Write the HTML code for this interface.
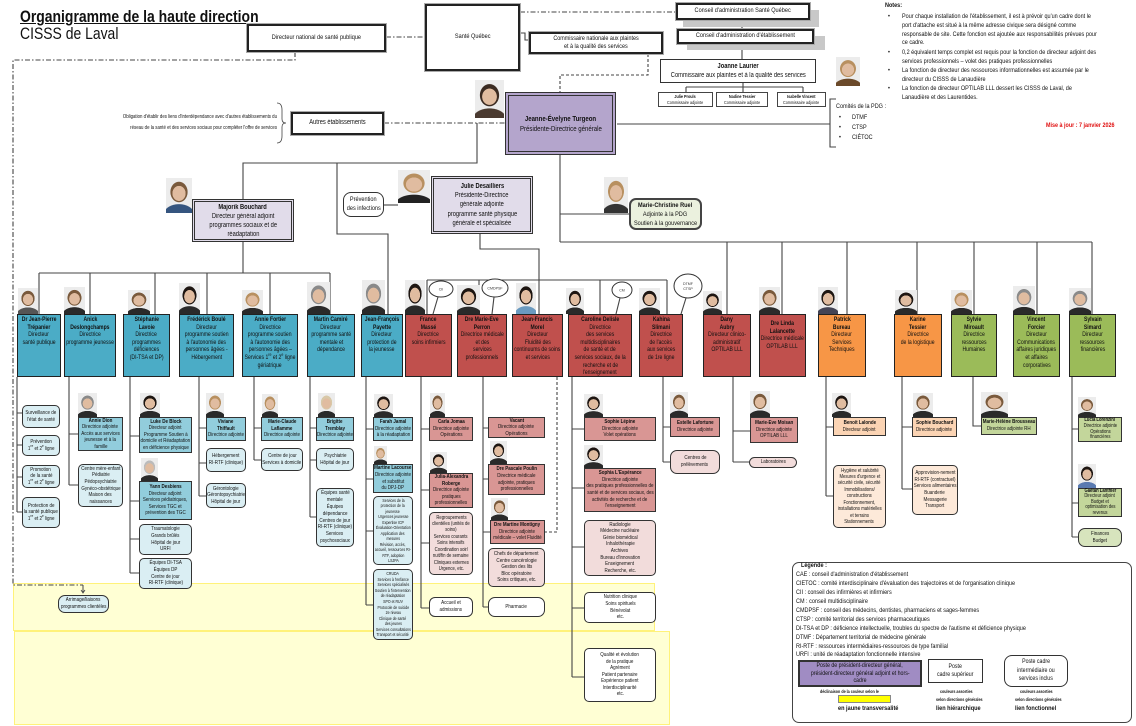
<!DOCTYPE html>
<html><head><meta charset="utf-8">
<style>
*{margin:0;padding:0}
body{width:1136px;height:726px;position:relative;overflow:hidden;background:#fff;font-family:"Liberation Sans",Arial,sans-serif;color:#111}
.t{position:absolute;white-space:nowrap;transform:scaleX(.82);transform-origin:0 50%}
.bx{position:absolute;box-sizing:border-box;display:flex;flex-direction:column;align-items:center;justify-content:center;text-align:center;white-space:nowrap;font-size:5.5px;line-height:6.6px;border:1.2px solid #333;background:#fff}
.bx>*{display:block;transform:scaleX(.82)}
.d{justify-content:flex-start;font-size:6.2px;line-height:7.6px;border:1.5px solid #222;padding-top:1px}
.s{border-radius:5px}
.top{border:2px solid #222;box-shadow:0 0 0 1px #aaa;font-size:6.8px;line-height:8.5px}
.B{background:#4bacc6}.R{background:#c0504d}.O{background:#f79646}.G{background:#9bbb59}
.b2{background:#92cddc}.r2{background:#d99694}.o2{background:#fbd4b4}.g2{background:#c3d69b}
.b3{background:#daeef3}.r3{background:#f2dcdb}.o3{background:#fde9d9}.g3{background:#d7e4bd}
.p{position:absolute;background:
 radial-gradient(ellipse 26% 22% at 50% 44%,#e0bca0 95%,transparent 100%),
 radial-gradient(ellipse 34% 30% at 50% 40%,var(--h,#3b2b22) 95%,transparent 100%),
 radial-gradient(ellipse 60% 30% at 50% 104%,var(--c,#2a2a2a) 95%,transparent 100%),
 #ececec}
.y{--h:#b89060}.g{--h:#8a8a8a}.k{--h:#1e1612}.l{--h:#7a5a3c}
sup{font-size:70%;line-height:0}
</style></head><body>

<div style="position:absolute;left:13px;top:583px;width:642px;height:48px;background:#ffffd4;border:1px solid #fff27a;box-sizing:border-box"></div>
<div style="position:absolute;left:14px;top:631px;width:656px;height:94px;background:#ffffd4;border:1px solid #fff27a;box-sizing:border-box"></div>

<svg width="1136" height="726" style="position:absolute;left:0;top:0" fill="none" stroke="#444" stroke-width="1.1">
<g stroke-dasharray="5 2 1.5 2">
<path d="M386 37H425M520 12H676M384 123H505M295 52V60H13V585H83"/>
</g>
<path d="M83 585V592" stroke-width="1"/>
<path d="M81 590L83 593L85 590" stroke-width="0.8"/>
<g stroke-dasharray="3 2">
<path d="M648 54V75H560V92"/>
<path d="M557 377V532H545"/>
</g>
<path d="M520 33H525V40H529"/>
<path d="M742 20V29M742 43V59"/>
<path d="M743 83V87M686 87H803M686 87V92M743 87V92M803 87V92"/>
<path d="M836 99H830V147H836"/>
<path d="M617 124H830"/>
<path d="M277 103Q282 103 282 110V119Q282 123 286 123Q282 123 282 127V136Q282 143 277 143" stroke-width="0.8"/>
<path d="M477 123V163H243V199M337 163V234H388V314"/>
<path d="M384 205H398"/>
<path d="M480 234V249H539V280"/>
<path d="M560 155V242M560 214H629M560 242H1092M727 242V314M782 242V314M847 242V314M917 242V314M974 242V314M1037 242V314M1092 242V314"/>
<path d="M243 242V273M39 273H330M39 273V314M90 273V314M155 273V314M207 273V314M270 273V314M330 273V314"/>
<path d="M427 280H667M427 280V314M479 280V314M539 280V314M600 280V314M667 280V314"/>
<path d="M17 377V512M17 413H22M17 445H22M17 477H22M17 512H22"/>
<path d="M69 377V485M69 434H78M69 485H78"/>
<path d="M130 377V573M130 436H139M130 501H139M130 539H139M130 573H139"/>
<path d="M199 377V496M199 428H206M199 463H206M199 496H206"/>
<path d="M254 377V460M254 428H261M254 460H261"/>
<path d="M310 377V517M310 428H316M310 460H316M310 517H316"/>
<path d="M366 377V605M366 429H373M366 479H373M366 531H373M366 605H373"/>
<path d="M421 377V608M421 429H429M421 490H429M421 543H429M421 608H429"/>
<path d="M483 377V607M483 428H488M483 479H488M483 532H490M483 607H488"/>
<path d="M572 377V677M572 429H584M572 488H584M572 547H584M572 608H584M572 677H584"/>
<path d="M663 377V462M663 427H670M663 462H670"/>
<path d="M733 377V462M733 431H750M733 462H749"/>
<path d="M826 377V496M826 427H833M826 496H833"/>
<path d="M902 377V489M902 427H912M902 489H912"/>
<path d="M973 377V426H981"/>
<path d="M1072 377V537M1072 429H1078M1072 503H1078M1072 537H1078"/>
<path d="M438 297L433 314M494 297L492 314M620 298L616 314M686 298L681 314"/>
<g fill="#fff" stroke="#333" stroke-width="1">
<ellipse cx="441" cy="289" rx="12" ry="8"/>
<ellipse cx="495" cy="288" rx="13" ry="9"/>
<ellipse cx="622" cy="290" rx="10" ry="8"/>
<ellipse cx="688" cy="286" rx="14" ry="12"/>
</g>
<g fill="#333" stroke="none" font-family="Liberation Sans, Arial, sans-serif" font-size="3.6" text-anchor="middle">
<text x="441" y="290.5">CII</text>
<text x="495" y="289.5">CMDPSF</text>
<text x="622" y="291.5">CM</text>
<text x="688" y="285">DTMF</text>
<text x="688" y="290">CTSP</text>
</g>
</svg>

<div class="t" style="left:20px;top:8px;font-size:17px;line-height:17px;font-weight:bold;text-decoration:underline">Organigramme de la haute direction</div>
<div class="t" style="left:20px;top:25px;font-size:17px;line-height:17px">CISSS de Laval</div>

<div class="bx top" style="left:247px;top:24px;width:139px;height:28px"><span>Directeur national de santé publique</span></div>
<div class="bx top" style="left:425px;top:4px;width:95px;height:67px"><span>Santé Québec</span></div>
<div style="position:absolute;left:683px;top:10px;width:136px;height:17px;background:#c8c8c8"></div>
<div class="bx top" style="left:676px;top:3px;width:134px;height:17px"><span>Conseil d'administration Santé Québec</span></div>
<div style="position:absolute;left:687px;top:36px;width:138px;height:14px;background:#c8c8c8"></div>
<div class="bx top" style="left:677px;top:29px;width:137px;height:15px"><span>Conseil d'administration d'établissement</span></div>
<div class="bx top" style="left:529px;top:32px;width:134px;height:22px;font-size:6.6px;line-height:8px"><span>Commissaire nationale aux plaintes</span><span>et à la qualité des services</span></div>
<div class="bx top" style="left:660px;top:59px;width:156px;height:24px;font-size:7px;line-height:9.5px;box-shadow:none;border:1.5px solid #333"><b>Joanne Laurier</b><span>Commissaire aux plaintes et à la qualité des services</span></div>
<div class="p y" style="left:836px;top:57px;width:24px;height:29px;--c:#6b4a2a"></div>
<div class="bx" style="left:658px;top:92px;width:55px;height:15px;font-size:4.6px;line-height:6px;border:1.3px solid #444"><b>Julie Prouls</b><span>Commissaire adjointe</span></div>
<div class="bx" style="left:716px;top:92px;width:52px;height:15px;font-size:4.6px;line-height:6px;border:1.3px solid #444"><b>Nadine Tessier</b><span>Commissaire adjointe</span></div>
<div class="bx" style="left:777px;top:92px;width:49px;height:15px;font-size:4.6px;line-height:6px;border:1.3px solid #444"><b>Isabelle Vincent</b><span>Commissaire adjointe</span></div>

<div class="t" style="left:836px;top:103px;font-size:6.7px;line-height:8px">Comités de la PDG :</div>
<div class="t" style="left:839px;top:114px;font-size:6.7px;line-height:8px">•</div><div class="t" style="left:852px;top:114px;font-size:6.7px;line-height:8px">DTMF</div>
<div class="t" style="left:839px;top:124px;font-size:6.7px;line-height:8px">•</div><div class="t" style="left:852px;top:124px;font-size:6.7px;line-height:8px">CTSP</div>
<div class="t" style="left:839px;top:134px;font-size:6.7px;line-height:8px">•</div><div class="t" style="left:852px;top:134px;font-size:6.7px;line-height:8px">CIÉTOC</div>

<div style="font-size:6.7px;line-height:8px">
<div class="t" style="left:885px;top:2px;font-weight:bold">Notes:</div>
<div class="t" style="left:888px;top:13px">•</div>
<div class="t" style="left:902px;top:13px">Pour chaque installation de l'établissement, il est à prévoir qu'un cadre dont le</div>
<div class="t" style="left:902px;top:22px">port d'attache est situé à la même adresse civique sera désigné comme</div>
<div class="t" style="left:902px;top:31px">responsable de site. Cette fonction est ajoutée aux responsabilités prévues pour</div>
<div class="t" style="left:902px;top:39px">ce cadre.</div>
<div class="t" style="left:888px;top:49px">•</div>
<div class="t" style="left:902px;top:49px">0,2 équivalent temps complet est requis pour la fonction de directeur adjoint des</div>
<div class="t" style="left:902px;top:58px">services professionnels – volet des pratiques professionnelles</div>
<div class="t" style="left:888px;top:67px">•</div>
<div class="t" style="left:902px;top:67px">La fonction de directeur des ressources informationnelles est assumée par le</div>
<div class="t" style="left:902px;top:76px">directeur du CISSS de Lanaudière</div>
<div class="t" style="left:888px;top:85px">•</div>
<div class="t" style="left:902px;top:85px">La fonction de directeur OPTILAB LLL dessert les CISSS de Laval, de</div>
<div class="t" style="left:902px;top:94px">Lanaudière et des Laurentides.</div>
</div>
<div class="t" style="left:1046px;top:122px;font-size:6.6px;line-height:8px;font-weight:bold;color:#e01010">Mise à jour : 7 janvier 2026</div>

<div class="t" style="left:57px;top:114px;font-size:5.3px;line-height:6px;width:220px;text-align:right;transform-origin:100% 50%">Obligation d'établir des liens d'interdépendance avec d'autres établissements du</div>
<div class="t" style="left:57px;top:125px;font-size:5.3px;line-height:6px;width:220px;text-align:right;transform-origin:100% 50%">réseau de la santé et des services sociaux pour compléter l'offre de services</div>
<div class="bx top" style="left:291px;top:112px;width:93px;height:23px;font-size:7px"><span>Autres établissements</span></div>

<div class="p" style="left:475px;top:80px;width:29px;height:38px;--c:#4a3a30"></div>
<div class="bx" style="left:505px;top:92px;width:111px;height:63px;background:#b4a5cc;border:4px double #333;font-size:7.4px;line-height:10px"><b>Jeanne-Évelyne Turgeon</b><span>Présidente-Directrice générale</span></div>

<div class="p l" style="left:166px;top:178px;width:26px;height:35px;--c:#35557f"></div>
<div class="bx" style="left:192px;top:199px;width:102px;height:43px;background:#e1dcea;border:3px double #333;font-size:7px;line-height:9px"><b>Majorik Bouchard</b><span>Directeur général adjoint</span><span>programmes sociaux et de</span><span>réadaptation</span></div>
<div class="bx s" style="left:343px;top:192px;width:41px;height:25px;border-radius:8px;font-size:6.8px;line-height:8.5px"><span>Prévention</span><span>des infections</span></div>
<div class="p y" style="left:398px;top:170px;width:32px;height:33px;--c:#222"></div>
<div class="bx" style="left:431px;top:176px;width:102px;height:58px;background:#e1dcea;border:3px double #333;font-size:7px;line-height:9.2px"><b>Julie Desailliers</b><span>Présidente-Directrice</span><span>générale adjointe</span><span>programme santé physique</span><span>générale et spécialisée</span></div>
<div class="p y" style="left:604px;top:177px;width:24px;height:36px;--c:#333"></div>
<div class="bx" style="left:629px;top:198px;width:73px;height:32px;background:#ebf1de;border:2px solid #444;border-radius:7px;font-size:6.8px;line-height:9px"><b>Marie-Christine Ruel</b><span>Adjointe à la PDG</span><span>Soutien à la gouvernance</span></div>

<div class="p l" style="left:18px;top:288px;width:20px;height:26px;--c:#555"></div>
<div class="p l" style="left:64px;top:287px;width:21px;height:27px"></div>
<div class="p l" style="left:128px;top:290px;width:22px;height:24px"></div>
<div class="p k" style="left:179px;top:283px;width:21px;height:31px"></div>
<div class="p y" style="left:242px;top:290px;width:21px;height:24px"></div>
<div class="p g" style="left:307px;top:282px;width:23px;height:32px"></div>
<div class="p g" style="left:362px;top:280px;width:23px;height:34px"></div>
<div class="p k" style="left:405px;top:280px;width:20px;height:34px"></div>
<div class="p k" style="left:457px;top:285px;width:23px;height:29px"></div>
<div class="p k" style="left:516px;top:283px;width:20px;height:31px;--c:#6a9ac0"></div>
<div class="p k" style="left:566px;top:288px;width:18px;height:26px"></div>
<div class="p k" style="left:639px;top:288px;width:21px;height:26px"></div>
<div class="p k" style="left:703px;top:291px;width:19px;height:23px"></div>
<div class="p l" style="left:759px;top:287px;width:21px;height:27px"></div>
<div class="p k" style="left:818px;top:287px;width:20px;height:27px;--c:#445"></div>
<div class="p k" style="left:895px;top:290px;width:22px;height:24px"></div>
<div class="p y" style="left:951px;top:290px;width:21px;height:24px"></div>
<div class="p g" style="left:1013px;top:286px;width:22px;height:28px"></div>
<div class="p g" style="left:1069px;top:288px;width:22px;height:26px"></div>

<div class="bx d B" style="left:17px;top:314px;width:44px;height:63px"><b>Dr Jean-Pierre</b><b>Trépanier</b><span>Directeur</span><span>santé publique</span></div>
<div class="bx d B" style="left:64px;top:314px;width:52px;height:63px"><b>Anick</b><b>Deslongchamps</b><span>Directrice</span><span>programme jeunesse</span></div>
<div class="bx d B" style="left:123px;top:314px;width:47px;height:63px"><b>Stéphanie</b><b>Lavoie</b><span>Directrice</span><span>programmes</span><span>déficiences</span><span>(DI-TSA et DP)</span></div>
<div class="bx d B" style="left:179px;top:314px;width:55px;height:63px"><b>Frédérick Boulé</b><span>Directeur</span><span>programme soutien</span><span>à l'autonomie des</span><span>personnes âgées -</span><span>Hébergement</span></div>
<div class="bx d B" style="left:242px;top:314px;width:56px;height:63px"><b>Annie Fortier</b><span>Directrice</span><span>programme soutien</span><span>à l'autonomie des</span><span>personnes âgées –</span><span>Services 1<sup>re</sup> et 2<sup>e</sup> ligne</span><span>gériatrique</span></div>
<div class="bx d B" style="left:307px;top:314px;width:48px;height:63px"><b>Martin Camiré</b><span>Directeur</span><span>programme santé</span><span>mentale et</span><span>dépendance</span></div>
<div class="bx d B" style="left:361px;top:314px;width:42px;height:63px"><b>Jean-François</b><b>Payette</b><span>Directeur</span><span>protection de</span><span>la jeunesse</span></div>
<div class="bx d R" style="left:405px;top:314px;width:47px;height:63px"><b>France</b><b>Massé</b><span>Directrice</span><span>soins infirmiers</span></div>
<div class="bx d R" style="left:457px;top:314px;width:50px;height:63px"><b>Dre Marie-Eve</b><b>Perron</b><span>Directrice médicale</span><span>et des</span><span>services</span><span>professionnels</span></div>
<div class="bx d R" style="left:512px;top:314px;width:51px;height:63px"><b>Jean-Francis</b><b>Morel</b><span>Directeur</span><span>Fluidité des</span><span>continuums de soins</span><span>et services</span></div>
<div class="bx d R" style="left:568px;top:314px;width:64px;height:63px"><b>Caroline Delisle</b><span>Directrice</span><span>des services</span><span>multidisciplinaires</span><span>de santé et de</span><span>services sociaux, de la</span><span>recherche et de</span><span>l'enseignement</span></div>
<div class="bx d R" style="left:639px;top:314px;width:44px;height:63px"><b>Kahina</b><b>Slimani</b><span>Directrice</span><span>de l'accès</span><span>aux services</span><span>de 1re ligne</span></div>
<div class="bx d R" style="left:703px;top:314px;width:48px;height:63px"><b>Dany</b><b>Aubry</b><span>Directeur clinico-</span><span>administratif</span><span>OPTILAB LLL</span></div>
<div class="bx d R" style="left:759px;top:314px;width:47px;height:63px;padding-top:5px"><b>Dre Linda</b><b>Lalancette</b><span>Directrice médicale</span><span>OPTILAB LLL</span></div>
<div class="bx d O" style="left:818px;top:314px;width:48px;height:63px"><b>Patrick</b><b>Bureau</b><span>Directeur</span><span>Services</span><span>Techniques</span></div>
<div class="bx d O" style="left:894px;top:314px;width:48px;height:63px"><b>Karine</b><b>Tessier</b><span>Directrice</span><span>de la logistique</span></div>
<div class="bx d G" style="left:951px;top:314px;width:46px;height:63px"><b>Sylvie</b><b>Miroault</b><span>Directrice</span><span>ressources</span><span>Humaines</span></div>
<div class="bx d G" style="left:1013px;top:314px;width:47px;height:63px"><b>Vincent</b><b>Forcier</b><span>Directeur</span><span>Communications</span><span>affaires juridiques</span><span>et affaires</span><span>corporatives</span></div>
<div class="bx d G" style="left:1069px;top:314px;width:47px;height:63px"><b>Sylvain</b><b>Simard</b><span>Directeur</span><span>ressources</span><span>financières</span></div>

<div class="p g" style="left:78px;top:393px;width:19px;height:24px"></div>
<div class="p k" style="left:140px;top:393px;width:20px;height:24px"></div>
<div class="p g" style="left:141px;top:458px;width:17px;height:23px;--h:#bbb"></div>
<div class="p y" style="left:206px;top:393px;width:18px;height:24px"></div>
<div class="p y" style="left:262px;top:394px;width:16px;height:23px"></div>
<div class="p y" style="left:318px;top:393px;width:17px;height:24px;--h:#d8c8a8"></div>
<div class="p k" style="left:374px;top:394px;width:19px;height:23px"></div>
<div class="p y" style="left:374px;top:446px;width:13px;height:18px"></div>
<div class="p l" style="left:430px;top:393px;width:15px;height:24px"></div>
<div class="p k" style="left:430px;top:452px;width:17px;height:21px"></div>
<div class="p k" style="left:490px;top:441px;width:17px;height:23px"></div>
<div class="p l" style="left:491px;top:498px;width:17px;height:22px"></div>
<div class="p k" style="left:584px;top:394px;width:19px;height:23px"></div>
<div class="p k" style="left:584px;top:445px;width:19px;height:23px"></div>
<div class="p l" style="left:670px;top:392px;width:18px;height:25px"></div>
<div class="p l" style="left:750px;top:391px;width:20px;height:26px"></div>
<div class="p k" style="left:832px;top:393px;width:19px;height:24px"></div>
<div class="p l" style="left:913px;top:393px;width:20px;height:24px"></div>
<div class="p l" style="left:981px;top:392px;width:27px;height:25px"></div>
<div class="p l" style="left:1078px;top:397px;width:18px;height:20px"></div>
<div class="p k" style="left:1078px;top:464px;width:18px;height:24px;--c:#5a7ab0"></div>

<div class="bx s b3" style="left:22px;top:405px;width:38px;height:23px"><span>Surveillance de</span><span>l'état de santé</span></div>
<div class="bx s b3" style="left:22px;top:435px;width:38px;height:21px"><span>Prévention</span><span>1<sup>re</sup> et 2<sup>e</sup> ligne</span></div>
<div class="bx s b3" style="left:22px;top:465px;width:38px;height:23px"><span>Promotion</span><span>de la santé</span><span>1<sup>re</sup> et 2<sup>e</sup> ligne</span></div>
<div class="bx s b3" style="left:22px;top:497px;width:38px;height:31px"><span>Protection de</span><span>la santé publique</span><span>1<sup>re</sup> et 2<sup>e</sup> ligne</span></div>
<div class="bx b2" style="left:78px;top:417px;width:45px;height:34px"><b>Annie Dion</b><span>Directrice adjointe</span><span>Accès aux services</span><span>jeunesse et à la</span><span>famille</span></div>
<div class="bx s b3" style="left:78px;top:464px;width:45px;height:43px"><span>Centre mère-enfant</span><span>Pédiatrie</span><span>Pédopsychiatrie</span><span>Gynéco-obstétrique</span><span>Maison des</span><span>naissances</span></div>
<div class="bx b2" style="left:139px;top:417px;width:53px;height:36px"><b>Luke De Block</b><span>Directeur adjoint</span><span>Programme Soutien à</span><span>domicile et Réadaptation</span><span>en déficience physique</span></div>
<div class="bx b2" style="left:139px;top:481px;width:53px;height:39px"><b>Yann Desbiens</b><span>Directeur adjoint</span><span>Services pédiatriques,</span><span>Services TGC et</span><span>prévention des TGC</span></div>
<div class="bx s b3" style="left:139px;top:524px;width:53px;height:31px"><span>Traumatologie</span><span>Grands brûlés</span><span>Hôpital de jour</span><span>URFI</span></div>
<div class="bx s b3" style="left:139px;top:558px;width:53px;height:31px"><span>Équipes DI-TSA</span><span>Équipes DP</span><span>Centre de jour</span><span>RI-RTF (clinique)</span></div>
<div class="bx b2" style="left:206px;top:417px;width:40px;height:24px"><b>Viviane</b><b>Thiffault</b><span>Directrice adjointe</span></div>
<div class="bx s b3" style="left:206px;top:448px;width:40px;height:24px"><span>Hébergement</span><span>RI-RTF (clinique)</span></div>
<div class="bx s b3" style="left:206px;top:483px;width:40px;height:25px"><span>Gérontologie</span><span>Gérontopsychiatrie</span><span>Hôpital de jour</span></div>
<div class="bx b2" style="left:261px;top:417px;width:42px;height:24px"><b>Marie-Claude</b><b>Laflamme</b><span>Directrice adjointe</span></div>
<div class="bx s b3" style="left:261px;top:448px;width:42px;height:23px"><span>Centre de jour</span><span>Services à domicile</span></div>
<div class="bx b2" style="left:316px;top:417px;width:38px;height:24px"><b>Brigitte</b><b>Tremblay</b><span>Directrice adjointe</span></div>
<div class="bx s b3" style="left:316px;top:448px;width:38px;height:23px"><span>Psychiatrie</span><span>Hôpital de jour</span></div>
<div class="bx s b3" style="left:316px;top:488px;width:38px;height:59px;line-height:6.8px"><span>Équipes santé</span><span>mentale</span><span>Équipes</span><span>dépendance</span><span>Centres de jour</span><span>RI-RTF (clinique)</span><span>Services</span><span>psychosociaux</span></div>
<div class="bx b2" style="left:373px;top:417px;width:40px;height:24px"><b>Farah Jamal</b><span>Directrice adjointe</span><span>à la réadaptation</span></div>
<div class="bx b2" style="left:373px;top:464px;width:40px;height:29px"><b>Martine Lacourse</b><span>Directrice adjointe</span><span>et substitut</span><span>du DPJ-DP</span></div>
<div class="bx s b3" style="left:373px;top:496px;width:40px;height:69px;font-size:4.3px;line-height:5.5px"><span>Services de la</span><span>protection de la</span><span>jeunesse</span><span>Urgences jeunesse</span><span>Expertise ICP</span><span>Évaluation-Orientation</span><span>Application des</span><span>mesures</span><span>Révision, accès,</span><span>accueil, ressources RI-</span><span>RTF, adoption</span><span>LSJPA</span></div>
<div class="bx s b3" style="left:373px;top:569px;width:40px;height:71px;font-size:4.3px;line-height:5.6px"><span>CRUDA</span><span>Services à l'enfance</span><span>Services spécialisés</span><span>Soutien à l'intervention</span><span>de réadaptation</span><span>SPO et RUV</span><span>Protocole de suicide</span><span>2e niveau</span><span>Clinique de santé</span><span>des jeunes</span><span>Services consultations</span><span>Transport et sécurité</span></div>
<div class="bx s b3" style="left:58px;top:595px;width:51px;height:18px;border-radius:7px"><span>Arrimage/liaisons</span><span>programmes clientèles</span></div>
<div class="bx r2" style="left:429px;top:417px;width:44px;height:24px"><b>Carla Jomaa</b><span>Directrice adjointe</span><span>Opérations</span></div>
<div class="bx r2" style="left:429px;top:473px;width:44px;height:35px"><b>Julia-Alexandra</b><b>Roberge</b><span>Directrice adjointe</span><span>pratiques</span><span>professionnelles</span></div>
<div class="bx s r3" style="left:429px;top:512px;width:44px;height:63px;font-size:5.2px;line-height:6.4px"><span>Regroupements</span><span>clientèles (unités de</span><span>soins)</span><span>Services courants</span><span>Soins intensifs</span><span>Coordination soir/</span><span>nuit/fin de semaine</span><span>Cliniques externes</span><span>Urgence, etc.</span></div>
<div class="bx s" style="left:429px;top:597px;width:44px;height:20px;border-radius:6px"><span>Accueil et</span><span>admissions</span></div>
<div class="bx r2" style="left:488px;top:417px;width:57px;height:21px"><b>Vacant</b><span>Directrice adjointe</span><span>Opérations</span></div>
<div class="bx r2" style="left:488px;top:464px;width:57px;height:31px"><b>Dre Pascale Poulin</b><span>Directrice médicale</span><span>adjointe, pratiques</span><span>professionnelles</span></div>
<div class="bx r2" style="left:490px;top:520px;width:55px;height:24px;border-width:1.5px"><b>Dre Martine Montigny</b><span>Directrice adjointe</span><span>médicale – volet Fluidité</span></div>
<div class="bx s r3" style="left:488px;top:548px;width:57px;height:39px"><span>Chefs de département</span><span>Centre cancérologie</span><span>Gestion des lits</span><span>Bloc opératoire</span><span>Soins critiques, etc.</span></div>
<div class="bx s" style="left:488px;top:597px;width:57px;height:20px;border-radius:7px"><span>Pharmacie</span></div>
<div class="bx r2" style="left:584px;top:417px;width:72px;height:24px"><b>Sophie Lépine</b><span>Directrice adjointe</span><span>Volet opérations</span></div>
<div class="bx r2" style="left:584px;top:468px;width:72px;height:44px"><b>Sophia L'Espérance</b><span>Directrice adjointe</span><span>des pratiques professionnelles de</span><span>santé et de services sociaux, des</span><span>activités de recherche et de</span><span>l'enseignement</span></div>
<div class="bx s r3" style="left:584px;top:520px;width:72px;height:56px"><span>Radiologie</span><span>Médecine nucléaire</span><span>Génie biomédical</span><span>Inhalothérapie</span><span>Archives</span><span>Bureau d'innovation</span><span>Enseignement</span><span>Recherche, etc.</span></div>
<div class="bx s" style="left:584px;top:592px;width:72px;height:31px"><span>Nutrition clinique</span><span>Soins spirituels</span><span>Bénévolat</span><span>etc.</span></div>
<div class="bx s" style="left:584px;top:648px;width:72px;height:54px"><span>Qualité et évolution</span><span>de la pratique</span><span>Agrément</span><span>Patient partenaire</span><span>Expérience patient</span><span>Interdisciplinarité</span><span>etc.</span></div>
<div class="bx r2" style="left:670px;top:417px;width:50px;height:20px"><b>Estelle Lafortune</b><span>Directrice adjointe</span></div>
<div class="bx s r3" style="left:670px;top:450px;width:50px;height:24px;border-radius:7px"><span>Centres de</span><span>prélèvements</span></div>
<div class="bx r2" style="left:750px;top:417px;width:48px;height:26px"><b>Marie-Eve Moisan</b><span>Directrice adjointe</span><span>OPTILAB LLL</span></div>
<div class="bx s r3" style="left:749px;top:457px;width:48px;height:11px;border-radius:6px"><span>Laboratoires</span></div>
<div class="bx o2" style="left:833px;top:417px;width:53px;height:19px"><b>Benoit Lalonde</b><span>Directeur adjoint</span></div>
<div class="bx s o3" style="left:833px;top:465px;width:53px;height:63px;font-size:5.2px;line-height:6.4px"><span>Hygiène et salubrité</span><span>Mesures d'urgence et</span><span>sécurité civile, sécurité</span><span>Immobilisations/</span><span>constructions</span><span>Fonctionnement,</span><span>installations matérielles</span><span>et terrains</span><span>Stationnements</span></div>
<div class="bx o2" style="left:912px;top:417px;width:45px;height:20px"><b>Sophie Bouchard</b><span>Directrice adjointe</span></div>
<div class="bx s o3" style="left:912px;top:465px;width:46px;height:50px"><span>Approvision-nement</span><span>RI-RTF (contractuel)</span><span>Services alimentaires</span><span>Buanderie</span><span>Messagerie</span><span>Transport</span></div>
<div class="bx g2" style="left:981px;top:417px;width:56px;height:18px"><b>Marie-Hélène Brousseau</b><span>Directrice adjointe RH</span></div>
<div class="bx g2" style="left:1078px;top:417px;width:44px;height:25px;font-size:5.1px;line-height:5.6px"><b>Lucia Lorenzini</b><span>Directrice adjointe</span><span>Opérations</span><span>financières</span></div>
<div class="bx g2" style="left:1078px;top:488px;width:44px;height:29px;font-size:5.1px;line-height:5.6px"><b>Gaétan Lanthier</b><span>Directeur adjoint</span><span>Budget et</span><span>optimisation des</span><span>revenus</span></div>
<div class="bx s g3" style="left:1078px;top:528px;width:44px;height:19px;border-radius:7px"><span>Finances</span><span>Budget</span></div>

<div style="position:absolute;left:792px;top:562px;width:340px;height:161px;border:1.3px solid #444;border-radius:7px;box-sizing:border-box"></div>
<div style="font-size:6.7px;line-height:8px">
<div class="t" style="left:801px;top:562px;font-weight:bold">Légende :</div>
<div class="t" style="left:796px;top:571px">CAE : conseil d'administration d'établissement</div>
<div class="t" style="left:796px;top:580px">CIETOC : comité interdisciplinaire d'évaluation des trajectoires et de l'organisation clinique</div>
<div class="t" style="left:796px;top:589px">CII : conseil des infirmières et infirmiers</div>
<div class="t" style="left:796px;top:598px">CM : conseil multidisciplinaire</div>
<div class="t" style="left:796px;top:607px">CMDPSF : conseil des médecins, dentistes, pharmaciens et sages-femmes</div>
<div class="t" style="left:796px;top:616px">CTSP : comité territorial des services pharmaceutiques</div>
<div class="t" style="left:796px;top:625px">DI-TSA et DP : déficience intellectuelle, troubles du spectre de l'autisme et déficience physique</div>
<div class="t" style="left:796px;top:634px">DTMF : Département territorial de médecine générale</div>
<div class="t" style="left:796px;top:643px">RI-RTF : ressources intermédiaires-ressources de type familial</div>
<div class="t" style="left:796px;top:651px">URFI : unité de réadaptation fonctionnelle intensive</div>
</div>
<div class="bx" style="left:798px;top:660px;width:124px;height:27px;background:#a08cc3;border:2.5px solid #333;font-size:6.4px;line-height:7.6px"><span>Poste de président-directeur général,</span><span>président-directeur général adjoint et hors-</span><span>cadre</span></div>
<div class="bx" style="left:928px;top:659px;width:55px;height:24px;border:1.5px solid #333;font-size:6.4px;line-height:8.5px"><span>Poste</span><span>cadre supérieur</span></div>
<div class="bx s" style="left:1004px;top:655px;width:64px;height:32px;border:1.5px solid #333;border-radius:8px;font-size:6.4px;line-height:8.5px"><span>Poste cadre</span><span>intermédiaire ou</span><span>services inclus</span></div>
<div class="t" style="left:820px;top:689px;font-size:4.5px;line-height:6px;font-weight:bold">déclinaison de la couleur selon le</div>
<div style="position:absolute;left:838px;top:695px;width:53px;height:8px;background:#ffff00;border:1px solid #888;box-sizing:border-box"></div>
<div class="t" style="left:838px;top:705px;font-size:6.8px;line-height:8px;font-weight:bold">en jaune transversalité</div>
<div class="t" style="left:940px;top:689px;font-size:4.5px;line-height:6px;font-weight:bold">couleurs assorties</div>
<div class="t" style="left:936px;top:697px;font-size:4.5px;line-height:6px;font-weight:bold">selon directions générales</div>
<div class="t" style="left:936px;top:705px;font-size:6.8px;line-height:8px;font-weight:bold">lien hiérarchique</div>
<div class="t" style="left:1020px;top:689px;font-size:4.5px;line-height:6px;font-weight:bold">couleurs assorties</div>
<div class="t" style="left:1015px;top:697px;font-size:4.5px;line-height:6px;font-weight:bold">selon directions générales</div>
<div class="t" style="left:1015px;top:705px;font-size:6.8px;line-height:8px;font-weight:bold">lien fonctionnel</div>

</body></html>
